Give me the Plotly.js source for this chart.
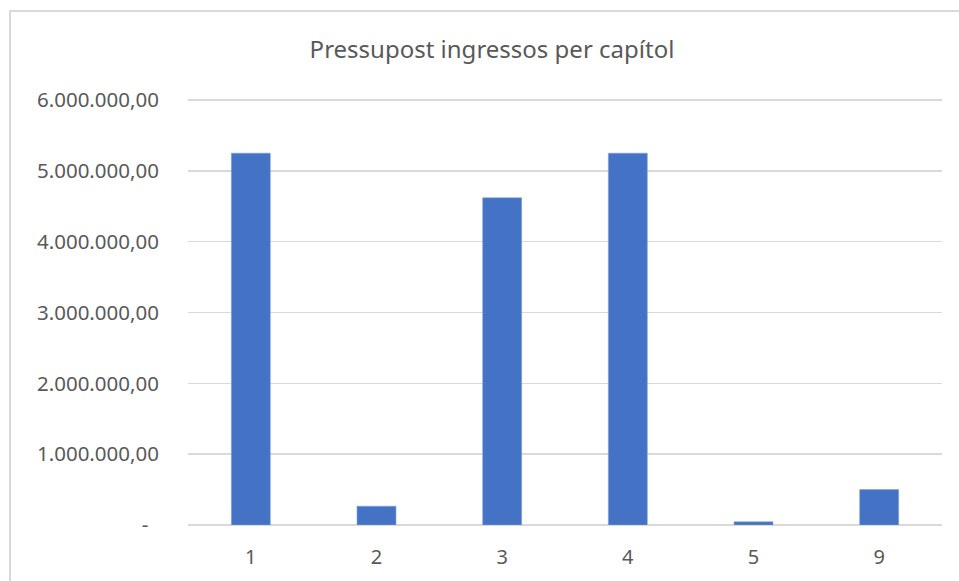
<!DOCTYPE html>
<html>
<head>
<meta charset="utf-8">
<script src="https://cdn.plot.ly/plotly-3.0.1.min.js"></script>
<style>
html,body{margin:0;padding:0;background:#fff;}
#wrap{position:relative;width:959px;height:581px;overflow:hidden;}
#chart{width:959px;height:581px;}
#frame{position:absolute;left:9px;top:10px;width:1000px;height:700px;border-left:2px solid #d9d9d9;border-top:2px solid #d9d9d9;pointer-events:none;}
</style>
</head>
<body>
<div id="wrap">
<div id="chart"></div>
<div id="frame"></div>
</div>
<script>
const chartTitle = "Pressupost ingressos per capítol";
const categories = ["1", "2", "3", "4", "5", "9"];
const values = [5250000, 265000, 4620000, 5250000, 45000, 500000];
const yTickVals = [0, 1000000, 2000000, 3000000, 4000000, 5000000, 6000000];
const yTickText = ["-\u00a0\u00a0", "1.000.000,00", "2.000.000,00", "3.000.000,00", "4.000.000,00", "5.000.000,00", "6.000.000,00"];

const trace = {
  type: "bar",
  x: categories,
  y: values,
  marker: {color: "#4472C4", line: {color: "#7f9fd9", width: 0.6}},
  hoverinfo: "x+y"
};

const layout = {
  width: 959,
  height: 581,
  margin: {l: 188, r: 17, t: 99, b: 55.5, pad: 0},
  paper_bgcolor: "#ffffff",
  plot_bgcolor: "#ffffff",
  font: {family: "Noto Sans, sans-serif", color: "#595959", size: 20},
  title: {
    text: chartTitle,
    font: {family: "Noto Sans, sans-serif", size: 24, color: "#595959"},
    x: 492 / 959, xanchor: "center", xref: "container",
    y: 1 - 50 / 581, yref: "container", yanchor: "middle"
  },
  showlegend: false,
  bargap: 0.69,
  xaxis: {
    type: "category",
    showgrid: false,
    zeroline: false,
    showline: false,
    ticks: "",
    tickfont: {size: 20, color: "#595959"},
    ticklabelstandoff: 18
  },
  yaxis: {
    range: [0, 6015000],
    tickvals: yTickVals,
    ticktext: yTickText,
    showgrid: true,
    gridcolor: "#d9d9d9",
    gridwidth: 1.5,
    zeroline: true,
    zerolinecolor: "#d9d9d9",
    zerolinewidth: 1.5,
    showline: false,
    ticks: "",
    tickfont: {size: 20.5, color: "#595959"},
    ticklabelstandoff: 28,
    fixedrange: true
  }
};

Plotly.newPlot("chart", [trace], layout, {displayModeBar: false, staticPlot: true});
</script>
</body>
</html>
